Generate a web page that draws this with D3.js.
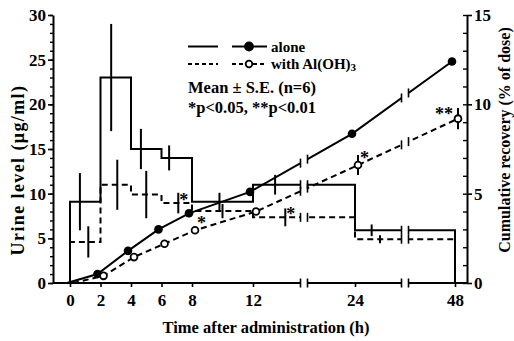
<!DOCTYPE html>
<html>
<head>
<meta charset="utf-8">
<script src="https://cdn.jsdelivr.net/npm/d3@7"></script>
<style>
body{margin:0;background:#fff;}
svg text{font-family:"Liberation Serif","Times New Roman",serif;font-weight:bold;fill:#000;}
</style>
</head>
<body>
<div id="chart"></div>
<script>
//Sampling intervals (h)
var intervalStart=[0,2,4,6,8,12,24];
var intervalEnd=48;
//Urine level (ug/ml) per interval, mean and S.E.
var urineAlone=[9.1,23,15,14,9.1,11,5.9];
var urineAloneSE=[3.2,6,2.25,1.4,1.0,1.1,0.65];
var urineAl=[4.6,11,9.9,8.95,8.05,7.35,4.9];
var urineAlSE=[1.75,2.8,2.65,1.15,0.8,1.0,0.45];
var urineAlSig=["","","","*","","*",""];
//Hour at which each error bar sits inside its interval
var errAtAlone=[0.65,2.7,4.65,6.5,9.8,14.6,28];
var errAtAl=[1.2,3.1,5.0,7.1,10.0,15.8,30];
//Cumulative recovery (% of dose)
var cumHours=[0,2,4,6,8,12,24,48];
var cumAlone=[0,0.5,1.8,3.0,3.9,5.1,8.35,12.4];
var cumAl=[0,0.4,1.45,2.2,2.95,4.0,6.6,9.2];
var cumAlSE=[0,0,0,0,0,0,0.56,0.6];
var cumAlSig=["","","","","*","","*","**"];
//Axis ticks
var xTicks=[0,2,4,6,8,12,24,48];
var xBreaks=[18,36];
var yLeftTicks=[0,5,10,15,20,25,30];
var yRightTicks=[0,5,10,15];

//Chart settings
var settings={
  width:514, height:341,
  left:53, right:467, top:15, bottom:283,
  lineWidth:2,
  dash:"6,4",
  fontSize:17,
  legendSize:16.5,
  starSize:18,
  markerShift:3        //solid markers sit a bit left, open ones a bit right
}

var svg=d3.select('#chart').append('svg')
  .attr('width',settings.width)
  .attr('height',settings.height)

//Broken time axis: 0-12 linear, then 24 and 48 squeezed in
var x=d3.scaleLinear().domain([0,12,24,48]).range([70,253,355,455])
var yL=d3.scaleLinear().domain([0,30]).range([settings.bottom,settings.top])
var yR=d3.scaleLinear().domain([0,15]).range([settings.bottom,settings.top])

//Step histograms of urine level
function stepPoints(means){
  let pts=[{t:0,v:0}]
  means.forEach((m,i)=>pts.push({t:intervalStart[i],v:m}))
  pts.push({t:intervalEnd,v:means[means.length-1]})
  pts.push({t:intervalEnd,v:0})
  return pts
}
var stepLine=d3.line().curve(d3.curveStepAfter).x(d=>x(d.t)).y(d=>yL(d.v))

svg.append('path').datum(stepPoints(urineAl))
  .attr('d',stepLine).attr('fill','none').attr('stroke','#000')
  .attr('stroke-width',settings.lineWidth).attr('stroke-dasharray',settings.dash)
svg.append('path').datum(stepPoints(urineAlone))
  .attr('d',stepLine).attr('fill','none').attr('stroke','#000')
  .attr('stroke-width',settings.lineWidth)

//Error bars on the steps
function stepErr(means,se,at){
  svg.append('g').selectAll('line')
    .data(means.map((m,i)=>({t:at[i],m:m,s:se[i]})))
    .join('line')
      .attr('x1',d=>x(d.t)).attr('x2',d=>x(d.t))
      .attr('y1',d=>yL(d.m-d.s)).attr('y2',d=>yL(d.m+d.s))
      .attr('stroke','#000').attr('stroke-width',settings.lineWidth)
}
stepErr(urineAlone,urineAloneSE,errAtAlone)
stepErr(urineAl,urineAlSE,errAtAl)

svg.append('g').selectAll('text')
  .data(urineAlSig.map((s,i)=>({s:s,t:errAtAl[i],m:urineAl[i]})).filter(d=>d.s))
  .join('text')
    .attr('x',d=>x(d.t)+1).attr('y',d=>yL(d.m)+3)
    .style('font-size',settings.starSize+'px').text(d=>d.s)

//Cumulative recovery lines
function cumPoints(vals,shift){
  return vals.map((v,i)=>({px:x(cumHours[i])+shift,py:yR(v),v:v,i:i}))
}
var ptsAlone=cumPoints(cumAlone,-settings.markerShift)
var ptsAl=cumPoints(cumAl,settings.markerShift)
var cumLine=d3.line().x(d=>d.px).y(d=>d.py)

svg.append('path').datum(ptsAl).attr('d',cumLine).attr('fill','none')
  .attr('stroke','#000').attr('stroke-width',settings.lineWidth).attr('stroke-dasharray',settings.dash)
svg.append('path').datum(ptsAlone).attr('d',cumLine).attr('fill','none')
  .attr('stroke','#000').attr('stroke-width',settings.lineWidth)

//error bars on open markers
svg.append('g').selectAll('line')
  .data(ptsAl.filter(d=>cumAlSE[d.i]>0))
  .join('line')
    .attr('x1',d=>d.px).attr('x2',d=>d.px)
    .attr('y1',d=>yR(d.v-cumAlSE[d.i])).attr('y2',d=>yR(d.v+cumAlSE[d.i]))
    .attr('stroke','#000').attr('stroke-width',settings.lineWidth)

svg.append('g').selectAll('circle')
  .data(ptsAlone.slice(1)).join('circle')
    .attr('cx',d=>d.px).attr('cy',d=>d.py).attr('r',4.3).attr('fill','#000')
svg.append('g').selectAll('circle')
  .data(ptsAl.slice(1)).join('circle')
    .attr('cx',d=>d.px).attr('cy',d=>d.py).attr('r',3.4)
    .attr('fill','#fff').attr('stroke','#000').attr('stroke-width',1.8)

svg.append('g').selectAll('text')
  .data(ptsAl.filter(d=>cumAlSig[d.i]))
  .join('text')
    .attr('x',d=>cumAlSig[d.i].length>1 ? d.px-5 : d.px+2)
    .attr('y',d=>cumAlSig[d.i].length>1 ? d.py+1 : d.py-1)
    .attr('text-anchor',d=>cumAlSig[d.i].length>1 ? 'end' : 'start')
    .style('font-size',settings.starSize+'px').text(d=>cumAlSig[d.i])

//X axis line
svg.append('line')
  .attr('x1',settings.left).attr('x2',settings.right)
  .attr('y1',settings.bottom).attr('y2',settings.bottom)
  .attr('stroke','#000').attr('stroke-width',settings.lineWidth)

//Axis breaks: blank gap with short bars on every line that crosses it
function yAtPixel(pts,px){
  for(let k=1;k<pts.length;k++){
    let a=pts[k-1],b=pts[k]
    if(px>=a.px && px<=b.px){
      return a.py+(b.py-a.py)*(px-a.px)/(b.px-a.px)
    }
  }
  return null
}
function stepAt(means,t){
  let idx=d3.bisectRight(intervalStart,t)-1
  return yL(means[idx])
}
xBreaks.forEach(tb=>{
  let xb=x(tb)
  let gap=3.5
  svg.append('rect')
    .attr('x',xb-gap+0.5).attr('width',2*gap-1)
    .attr('y',settings.top).attr('height',settings.bottom-settings.top+6)
    .attr('fill','#fff')
  ;[xb-gap,xb+gap].forEach(px=>{
    let ys=[settings.bottom,
            stepAt(urineAlone,tb),stepAt(urineAl,tb),
            yAtPixel(ptsAlone,px),yAtPixel(ptsAl,px)]
    ys.forEach(yy=>{
      svg.append('line')
        .attr('x1',px).attr('x2',px)
        .attr('y1',yy-4.5).attr('y2',yy+4.5)
        .attr('stroke','#000').attr('stroke-width',1.6)
    })
  })
})

//X axis ticks
var xAxis=svg.append('g')
  .attr('transform','translate(0,'+settings.bottom+')')
  .call(d3.axisBottom(x).tickValues(xTicks).tickSize(4).tickSizeOuter(0).tickPadding(7).tickFormat(d3.format('d')))
xAxis.select('.domain').remove()
xAxis.selectAll('line').attr('stroke-width',1.6)
xAxis.selectAll('text').style('font-size',settings.fontSize+'px')

//Left axis
var yAxisL=svg.append('g')
  .attr('transform','translate('+settings.left+',0)')
  .call(d3.axisLeft(yL).tickValues(yLeftTicks).tickSize(5).tickSizeOuter(0).tickPadding(2))
svg.append('g')
  .attr('transform','translate('+settings.left+',0)')
  .call(d3.axisLeft(yL).tickValues(d3.range(0,31)).tickSize(3).tickSizeOuter(0).tickFormat(''))
  .call(g=>g.select('.domain').remove())
  .selectAll('line').attr('stroke-width',1.4)
yAxisL.select('.domain').attr('stroke-width',settings.lineWidth)
yAxisL.selectAll('line').attr('stroke-width',1.6)
yAxisL.selectAll('text').style('font-size',settings.fontSize+'px')

//Right axis: major ticks outward, minor ticks inward
var yAxisR=svg.append('g')
  .attr('transform','translate('+settings.right+',0)')
  .call(d3.axisRight(yR).tickValues(yRightTicks).tickSize(5).tickSizeOuter(0).tickPadding(2))
svg.append('g')
  .attr('transform','translate('+settings.right+',0)')
  .call(d3.axisLeft(yR).tickValues(d3.range(0,16)).tickSize(4).tickSizeOuter(0).tickFormat(''))
  .call(g=>g.select('.domain').remove())
  .selectAll('line').attr('stroke-width',1.4)
yAxisR.select('.domain').attr('stroke-width',settings.lineWidth)
yAxisR.selectAll('line').attr('stroke-width',1.6)
yAxisR.selectAll('text').style('font-size',settings.fontSize+'px')

//Axis titles
svg.append('text')
  .attr('x',266).attr('y',333).attr('text-anchor','middle')
  .style('font-size','16.5px')
  .text('Time after administration (h)')
svg.append('text')
  .attr('transform','translate(24,170) rotate(-90)').attr('text-anchor','middle')
  .style('font-size','18px').style('letter-spacing','1.4px')
  .text('Urine level (\u03bcg/ml)')
svg.append('text')
  .attr('transform','translate(510,140) rotate(-90)').attr('text-anchor','middle')
  .style('font-size','16px')
  .text('Cumulative recovery (% of dose)')

//Legend
var legend=svg.append('g').attr('transform','translate(188,46.5)')
var rows=[{dash:null,fill:'#000',r:4,label:'alone'},{dash:'4,3',fill:'#fff',r:3.3,label:'with Al(OH)'}]
rows.forEach((r,i)=>{
  let g=legend.append('g').attr('transform','translate(0,'+(i*17.5)+')')
  g.append('line').attr('x1',0).attr('x2',30).attr('stroke','#000')
    .attr('stroke-width',settings.lineWidth).attr('stroke-dasharray',r.dash)
  g.append('line').attr('x1',44).attr('x2',79).attr('stroke','#000')
    .attr('stroke-width',settings.lineWidth).attr('stroke-dasharray',r.dash)
  g.append('circle').attr('cx',61).attr('r',r.r).attr('fill',r.fill)
    .attr('stroke','#000').attr('stroke-width',1.8)
  let t=g.append('text').attr('x',83).attr('y',5).style('font-size','15px').text(r.label)
  if(i===1){
    t.append('tspan').attr('dy',2).style('font-size','11px').text('3')
  }
})
legend.append('text').attr('x',0).attr('y',46.5).style('font-size',settings.legendSize+'px').text('Mean \u00b1 S.E. (n=6)')
legend.append('text').attr('x',0).attr('y',66.5).style('font-size',settings.legendSize+'px').text('*p<0.05, **p<0.01')
</script>
</body>
</html>
